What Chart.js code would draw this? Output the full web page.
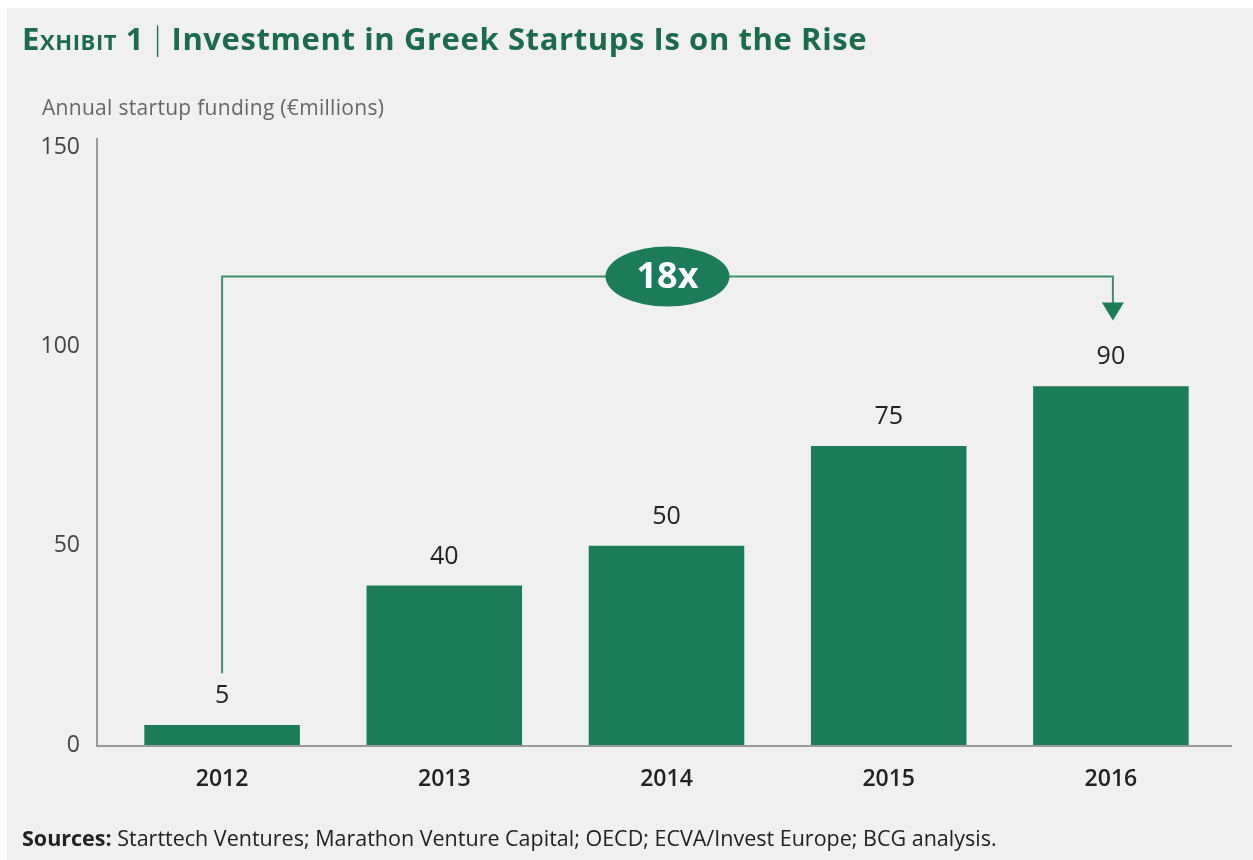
<!DOCTYPE html>
<html>
<head>
<meta charset="utf-8">
<script src="https://cdn.jsdelivr.net/npm/chart.js@4.4.1/dist/chart.umd.min.js"></script>
<style>
  html, body { margin: 0; padding: 0; background: #ffffff; }
  #page { position: absolute; left: 7px; top: 8px; width: 1246px; height: 852px; background: #f0f0f0; }
  #wrap { position: absolute; left: 0; top: 0; width: 1253px; height: 860px; }
  .txt { position: absolute; white-space: nowrap; font-family: "Open Sans", sans-serif; }
  #title { left: 22px; top: 17px; font-size: 31px; font-weight: 700; color: #1d6b4f; letter-spacing: 0.6px; }
  #title .ex { font-variant: small-caps; }
  #title .bar { font-weight: 300; margin: 0 5px; }
  #subtitle { left: 42px; top: 93px; font-size: 21px; color: #666; letter-spacing: 0.3px; }
  #sources { left: 22px; top: 823px; font-size: 21.5px; color: #222; }
  #sources b { font-weight: 700; }
</style>
</head>
<body>
<div id="page"></div>
<div id="wrap"><canvas id="chart" width="1253" height="860"></canvas></div>
<div class="txt" id="title"><span class="ex">Exhibit 1</span><span class="bar">|</span>Investment in Greek Startups Is on the Rise</div>
<div class="txt" id="subtitle">Annual startup funding (€millions)</div>
<div class="txt" id="sources"><b>Sources:</b> Starttech Ventures; Marathon Venture Capital; OECD; ECVA/Invest Europe; BCG analysis.</div>
<script>
// funding per year, €m
var years = ['2012', '2013', '2014', '2015', '2016'];
var funding = [5, 40, 50, 75, 90];
var yTicks = [0, 50, 100, 150];

// growth bracket from first to last year (heights in €m)
var growthLabel = '18x';
var bracketLow = 18;
var bracketTop = 117.5;
var arrowTip = 106.5;

var green = '#1c7b59';

// axis lines, value labels and the growth bracket
var decorations = {
    id: 'decorations',
    beforeDatasetsDraw: function(chart) {
        var c = chart.ctx, area = chart.chartArea;
        c.save();
        c.strokeStyle = '#9a9a9a';
        c.lineWidth = 2;
        c.beginPath();
        c.moveTo(area.left - 14, area.top - 9);
        c.lineTo(area.left - 14, area.bottom + 1);
        c.lineTo(area.right + 10, area.bottom + 1);
        c.stroke();
        c.restore();
    },
    afterDatasetsDraw: function(chart) {
        var c = chart.ctx;
        var x = chart.scales.x, y = chart.scales.y;
        var bars = chart.getDatasetMeta(0).data;

        c.save();
        c.fillStyle = '#222';
        c.font = '25px "Open Sans", sans-serif';
        c.textAlign = 'center';
        c.textBaseline = 'middle';
        bars.forEach(function(bar, i) {
            c.fillText(String(funding[i]), bar.x, bar.y - 29);
        });

        var x0 = x.getPixelForValue(0);
        var x1 = x.getPixelForValue(years.length - 1) + 2;
        var yLow = y.getPixelForValue(bracketLow);
        var yTop = y.getPixelForValue(bracketTop);
        var yTip = y.getPixelForValue(arrowTip);

        c.strokeStyle = '#3d8f70';
        c.lineWidth = 2;
        c.beginPath();
        c.moveTo(x0, yLow);
        c.lineTo(x0, yTop);
        c.lineTo(x1, yTop);
        c.lineTo(x1, yTip - 12);
        c.stroke();

        c.fillStyle = green;
        c.beginPath();
        c.moveTo(x1 - 11, yTip - 18);
        c.lineTo(x1 + 11, yTip - 18);
        c.lineTo(x1, yTip);
        c.closePath();
        c.fill();

        var cx = (x0 + x1) / 2;
        c.beginPath();
        c.ellipse(cx, yTop, 62, 30, 0, 0, Math.PI * 2);
        c.fill();
        c.fillStyle = '#ffffff';
        c.font = 'bold 36px "Open Sans", sans-serif';
        c.fillText(growthLabel, cx, yTop + 1);
        c.restore();
    }
};

new Chart(document.getElementById('chart'), {
    type: 'bar',
    data: {
        labels: years,
        datasets: [{
            data: funding,
            backgroundColor: green,
            borderWidth: 0,
            barPercentage: 0.7,
            categoryPercentage: 1
        }]
    },
    options: {
        responsive: false,
        animation: false,
        layout: { padding: { top: 147, right: 31, left: 0, bottom: 0 } },
        plugins: {
            legend: { display: false },
            tooltip: { enabled: false }
        },
        scales: {
            x: {
                grid: { display: false, drawTicks: false },
                border: { display: false },
                ticks: {
                    color: '#222',
                    padding: 21,
                    font: { family: 'Open Sans', size: 23, weight: 600 }
                },
                afterFit: function(scale) { scale.height = 115; }
            },
            y: {
                min: 0,
                max: 150,
                grid: { display: false, drawTicks: false },
                border: { display: false },
                afterBuildTicks: function(scale) {
                    scale.ticks = yTicks.map(function(v) { return { value: v }; });
                },
                ticks: {
                    color: '#444',
                    padding: 31,
                    font: { family: 'Open Sans', size: 23 }
                },
                afterFit: function(scale) { scale.width = 111; }
            }
        }
    },
    plugins: [decorations]
});
</script>
</body>
</html>
